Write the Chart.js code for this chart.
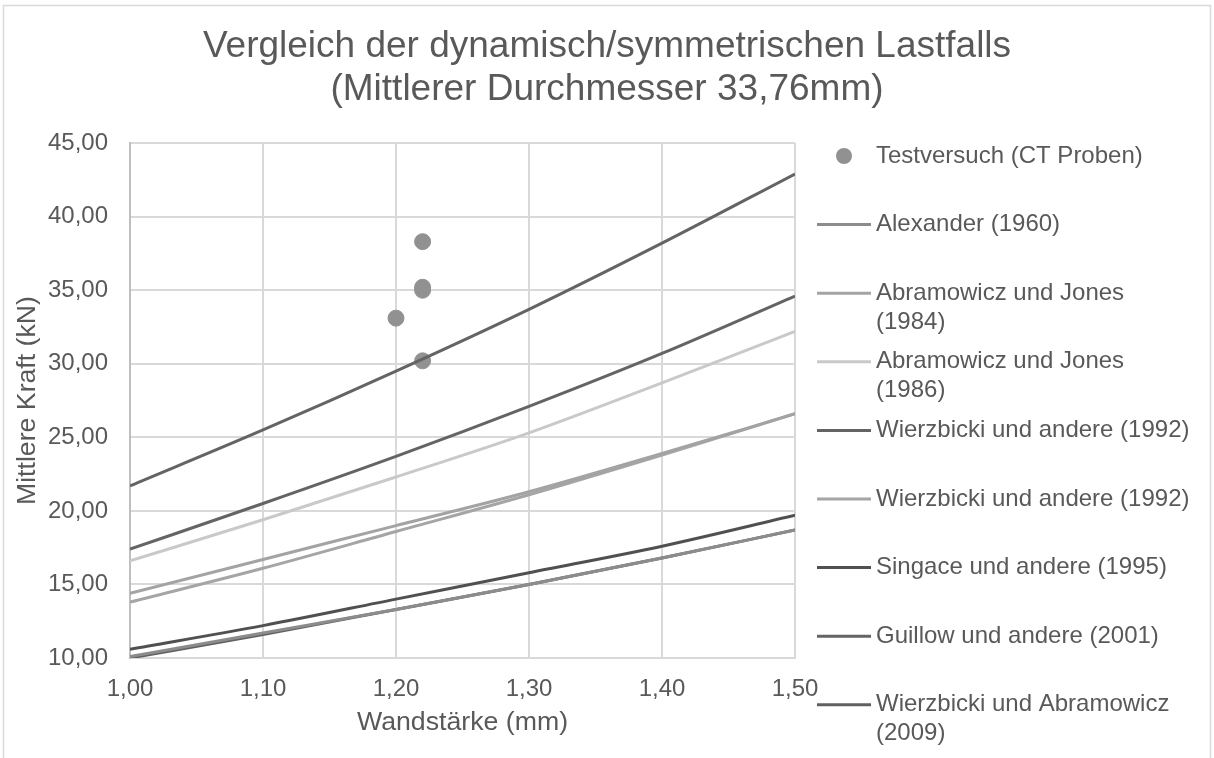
<!DOCTYPE html>
<html>
<head>
<meta charset="utf-8">
<script src="https://cdn.jsdelivr.net/npm/chart.js@4.4.1/dist/chart.umd.min.js"></script>
<style>
  html, body { margin: 0; padding: 0; background: #fff; }
  #wrap { position: relative; width: 1214px; height: 758px; }
</style>
</head>
<body>
<div id="wrap"><canvas id="myChart" width="1214" height="758"></canvas></div>
<script>
// data
const thickness = [1.00, 1.10, 1.20, 1.30, 1.40, 1.50];
const testX = [1.20, 1.22, 1.22, 1.22, 1.22];
const testY = [33.1, 38.3, 35.2, 35.0, 30.2];

const alexander1960 = [10.1, 11.7, 13.3, 15.0, 16.8, 18.7];
const abramowiczJones1984 = [14.4, 16.7, 19.0, 21.3, 23.9, 26.6];
const abramowiczJones1986 = [16.6, 19.4, 22.3, 25.3, 28.7, 32.2];
const wierzbicki1992a = [21.7, 25.5, 29.5, 33.7, 38.2, 42.9];
const wierzbicki1992b = [13.8, 16.1, 18.6, 21.1, 23.8, 26.6];
const singace1995 = [10.6, 12.2, 14.0, 15.8, 17.6, 19.7];
const guillow2001 = [17.4, 20.5, 23.7, 27.1, 30.7, 34.6];
const wierzbickiAbramowicz2009 = [10.0, 11.6, 13.3, 15.0, 16.8, 18.7];

const seriesNames = [
  'Testversuch (CT Proben)',
  'Alexander (1960)',
  'Abramowicz und Jones (1984)',
  'Abramowicz und Jones (1986)',
  'Wierzbicki und andere (1992)',
  'Wierzbicki und andere (1992)',
  'Singace und andere (1995)',
  'Guillow und andere (2001)',
  'Wierzbicki und Abramowicz (2009)'
];
const lineSeries = [alexander1960, abramowiczJones1984, abramowiczJones1986, wierzbicki1992a,
  wierzbicki1992b, singace1995, guillow2001, wierzbickiAbramowicz2009];
const lineColors = ['#8c8c8c', '#a3a3a3', '#c9c9c9', '#646464', '#a5a5a5', '#505050', '#646464', '#606060'];

const xTicks = [1.00, 1.10, 1.20, 1.30, 1.40, 1.50];
const yTicks = [10, 15, 20, 25, 30, 35, 40, 45];

const FONT = '"Liberation Sans", Arial, sans-serif';
const TEXT = '#595959';

function fmt(v) { return Number(v).toFixed(2).replace('.', ','); }

const datasets = [{
  type: 'scatter',
  label: seriesNames[0],
  data: testX.map((x, i) => ({x: x, y: testY[i]})),
  backgroundColor: '#919191',
  borderColor: '#919191',
  pointRadius: 8,
  pointHoverRadius: 8,
  order: 10
}];
lineSeries.forEach((s, i) => {
  datasets.push({
    type: 'line',
    label: seriesNames[i + 1],
    data: thickness.map((x, j) => ({x: x, y: s[j]})),
    borderColor: lineColors[i],
    backgroundColor: lineColors[i],
    borderWidth: 3,
    pointRadius: 0,
    fill: false,
    cubicInterpolationMode: 'monotone',
    order: 1
  });
});

// legend + outer border drawn on the canvas
const sideLegend = {
  id: 'sideLegend',
  afterDraw(chart) {
    const c = chart.ctx;
    c.save();
    c.strokeStyle = '#d9d9d9';
    c.lineWidth = 1.5;
    c.strokeRect(3.5, 5.5, 1207, 800);

    c.font = '24px ' + FONT;
    c.textBaseline = 'middle';
    c.textAlign = 'left';
    const top = 156, step = 68.6, tx = 876, maxW = 318;
    chart.data.datasets.forEach((ds, i) => {
      const y = top + i * step;
      if (i === 0) {
        c.beginPath();
        c.fillStyle = ds.backgroundColor;
        c.arc(844, y, 8, 0, Math.PI * 2);
        c.fill();
      } else {
        c.beginPath();
        c.strokeStyle = ds.borderColor;
        c.lineWidth = 3;
        c.moveTo(817, y);
        c.lineTo(871, y);
        c.stroke();
      }
      // wrap like the original legend
      const words = ds.label.split(' ');
      const lines = [];
      let cur = '';
      words.forEach(w => {
        const t = cur ? cur + ' ' + w : w;
        if (c.measureText(t).width > maxW && cur) { lines.push(cur); cur = w; } else cur = t;
      });
      lines.push(cur);
      c.fillStyle = TEXT;
      lines.forEach((l, k) => c.fillText(l, tx, y + k * 29));
    });
    c.restore();
  }
};

const ctx = document.getElementById('myChart').getContext('2d');
const chart = new Chart(ctx, {
  data: { datasets: datasets },
  plugins: [sideLegend],
  options: {
    responsive: false,
    animation: false,
    devicePixelRatio: 1,
    layout: { padding: 0 },
    plugins: {
      legend: { display: false },
      tooltip: { enabled: false },
      title: {
        display: true,
        text: ['Vergleich der dynamisch/symmetrischen Lastfalls', '(Mittlerer Durchmesser 33,76mm)'],
        color: TEXT,
        font: { family: FONT, size: 37, weight: 'normal', lineHeight: 1.17 },
        padding: { top: 25, bottom: 31.5 },
        fullSize: true
      }
    },
    scales: {
      x: {
        type: 'linear',
        min: 1.0,
        max: 1.5,
        afterBuildTicks: s => { s.ticks = xTicks.map(v => ({value: v})); },
        afterFit: s => { s.height = 100; },
        ticks: { callback: fmt, color: TEXT, font: { family: FONT, size: 24 }, padding: 17, maxRotation: 0 },
        grid: { color: '#d9d9d9', lineWidth: 2, drawTicks: false },
        border: { color: '#d9d9d9', width: 2 },
        title: { display: true, text: 'Wandstärke (mm)', color: TEXT,
          font: { family: FONT, size: 26.7, lineHeight: 1.2 }, padding: { bottom: 19 } }
      },
      y: {
        type: 'linear',
        min: 10,
        max: 45,
        afterBuildTicks: s => { s.ticks = yTicks.map(v => ({value: v})); },
        afterFit: s => { s.width = 130; },
        ticks: { callback: fmt, color: TEXT, font: { family: FONT, size: 24 }, padding: 22 },
        grid: { color: '#d9d9d9', lineWidth: 2, drawTicks: false },
        border: { color: '#bfbfbf', width: 2 },
        title: { display: true, text: 'Mittlere Kraft (kN)', color: TEXT,
          font: { family: FONT, size: 26.7, lineHeight: 1.2 }, padding: { top: 12 } }
      },
      // empty right-hand box that keeps room for the legend
      legendSpace: {
        type: 'linear',
        position: 'right',
        display: true,
        afterFit: s => { s.width = 419; },
        ticks: { display: false },
        grid: { display: false, drawTicks: false },
        border: { display: false }
      }
    }
  }
});
</script>
</body>
</html>
